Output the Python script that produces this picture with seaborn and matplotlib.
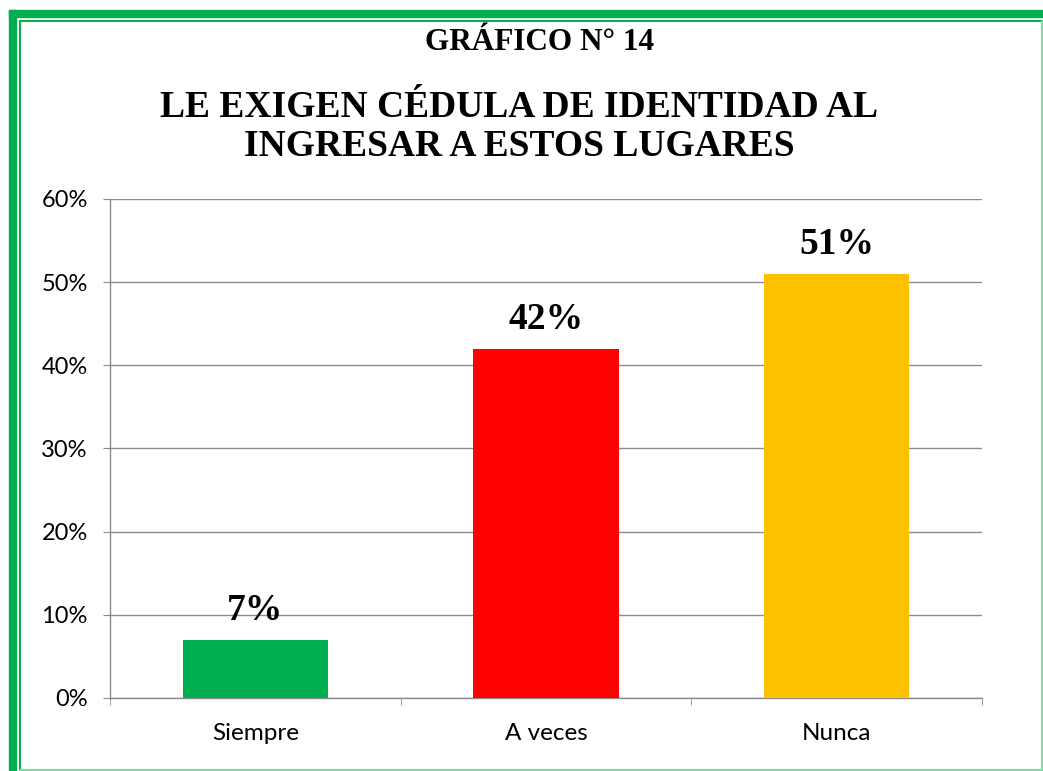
import matplotlib
matplotlib.use("Agg")
import matplotlib.pyplot as plt
import seaborn as sns
import pandas as pd
from matplotlib.patches import Rectangle
from matplotlib.ticker import FuncFormatter, MultipleLocator

# Data
categories = ["Siempre", "A veces", "Nunca"]
values = [0.07, 0.42, 0.51]
bar_colors = ["#00B050", "#FF0000", "#FFC000"]
labels = ["7%", "42%", "51%"]

df = pd.DataFrame({"cat": categories, "val": values})

sns.set_style("white")
plt.rcParams["font.family"] = ["Lato", "DejaVu Sans"]
plt.rcParams["text.color"] = "black"
plt.rcParams["xtick.color"] = "black"
plt.rcParams["ytick.color"] = "black"

W, H = 1043, 771
fig = plt.figure(figsize=(W / 100, H / 100), dpi=100)
ax = fig.add_axes([110 / W, 1 - 698 / H, (982 - 110) / W, (698 - 199) / H])

sns.barplot(data=df, x="cat", y="val", hue="cat", palette=bar_colors,
            width=0.5, legend=False, ax=ax, saturation=1, linewidth=0, zorder=3)

ax.set_ylim(0, 0.6)
ax.set_xlim(-0.5, 2.5)
ax.yaxis.set_major_locator(MultipleLocator(0.1))
ax.yaxis.set_major_formatter(FuncFormatter(lambda v, p: f"{v * 100:.0f}%"))
ax.grid(axis="y", color="#8c8c8c", linewidth=1, zorder=0)
ax.set_axisbelow(True)
for s in ["top", "right"]:
    ax.spines[s].set_visible(False)
for s in ["left", "bottom"]:
    ax.spines[s].set_color("#8c8c8c")
    ax.spines[s].set_linewidth(1)
ax.set_xlabel("")
ax.set_ylabel("")
ax.tick_params(axis="y", labelsize=17, length=5, color="#8c8c8c", pad=11,
               direction="out", left=True, labelcolor="black")
ax.tick_params(axis="x", labelsize=17.5, length=0, pad=18, labelcolor="black")
# boundary ticks on x axis
ax.set_xticks([-0.5, 0.5, 1.5, 2.5], minor=True)
ax.tick_params(axis="x", which="minor", length=5, color="#8c8c8c", direction="out", bottom=True)

for i, (v, lab) in enumerate(zip(values, labels)):
    ax.annotate(lab, (i, v), xytext=(0, 14), textcoords="offset points",
                ha="center", va="baseline", fontsize=27, fontweight="bold",
                family="Liberation Serif", color="black")

fig.text(540 / W, 1 - 43 / H, "GRÁFICO N° 14", ha="center", va="center",
         fontsize=22.5, fontweight="bold", family="Liberation Serif")
fig.text(519 / W, 1 - 127 / H, "LE EXIGEN CÉDULA DE IDENTIDAD AL\nINGRESAR A ESTOS LUGARES",
         ha="center", va="center", fontsize=27, fontweight="bold",
         family="Liberation Serif", linespacing=1.18)

# Border frame
green = "#00B050"
light = "#7fd9a8"
fig.patches.append(Rectangle((9 / W, 0), 7 / W, 1 - 10 / H, transform=fig.transFigure,
                             color=green, zorder=0))
fig.patches.append(Rectangle((9 / W, 1 - 17 / H), (W - 9) / W, 7 / H, transform=fig.transFigure,
                             color=green, zorder=0))
fig.add_artist(plt.Line2D([19.5 / W, 19.5 / W], [0, 1 - 20.5 / H], color=green, lw=1.5,
                          transform=fig.transFigure))
fig.add_artist(plt.Line2D([19.5 / W, 1], [1 - 20.5 / H, 1 - 20.5 / H], color=green, lw=1.5,
                          transform=fig.transFigure))
fig.add_artist(plt.Line2D([1041.5 / W, 1041.5 / W], [0, 1 - 20.5 / H], color=light, lw=1.5,
                          transform=fig.transFigure))
fig.add_artist(plt.Line2D([19.5 / W, 1], [1 / H, 1 / H], color=light, lw=1.5,
                          transform=fig.transFigure))

fig.savefig("out.png", dpi=100)
